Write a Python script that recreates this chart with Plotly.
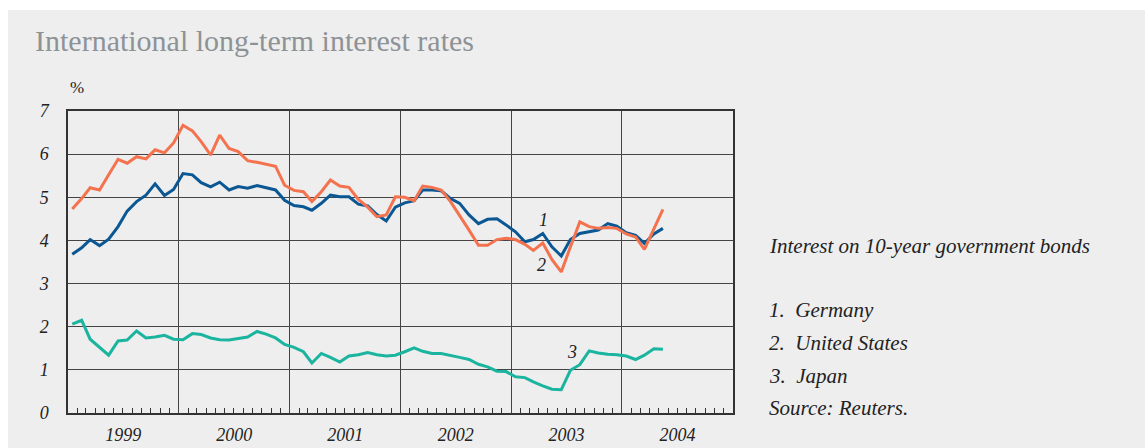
import plotly.graph_objects as go
import pandas as pd

# Monthly observations, January 1999 to May 2004 (mid-month)
months = pd.date_range("1999-01-01", periods=65, freq="MS") + pd.Timedelta(days=14)
months = [d.strftime("%Y-%m-%d") for d in months]

germany = [3.68, 3.83, 4.02, 3.88, 4.03, 4.32, 4.68, 4.90, 5.05, 5.31, 5.04, 5.18,
           5.55, 5.52, 5.34, 5.24, 5.35, 5.17, 5.25, 5.21, 5.27, 5.22, 5.17, 4.93,
           4.81, 4.78, 4.70, 4.86, 5.05, 5.01, 5.01, 4.84, 4.80, 4.60, 4.45, 4.77,
           4.87, 4.92, 5.17, 5.17, 5.15, 4.97, 4.86, 4.59, 4.39, 4.49, 4.50, 4.36,
           4.20, 3.97, 4.02, 4.16, 3.85, 3.64, 4.02, 4.16, 4.20, 4.24, 4.39, 4.33,
           4.18, 4.12, 3.93, 4.15, 4.28]

united_states = [4.73, 4.97, 5.22, 5.17, 5.52, 5.88, 5.79, 5.94, 5.89, 6.10, 6.03, 6.26,
                 6.67, 6.54, 6.29, 5.98, 6.44, 6.13, 6.06, 5.85, 5.81, 5.77, 5.72, 5.28,
                 5.16, 5.13, 4.90, 5.13, 5.40, 5.26, 5.23, 4.95, 4.77, 4.55, 4.59, 5.01,
                 5.00, 4.92, 5.26, 5.23, 5.17, 4.90, 4.59, 4.24, 3.89, 3.89, 4.02, 4.05,
                 4.02, 3.91, 3.77, 3.94, 3.56, 3.27, 3.85, 4.43, 4.32, 4.28, 4.30, 4.28,
                 4.15, 4.08, 3.79, 4.28, 4.72]

japan = [2.06, 2.15, 1.71, 1.53, 1.34, 1.67, 1.69, 1.90, 1.74, 1.76, 1.80, 1.71,
         1.70, 1.84, 1.82, 1.74, 1.70, 1.69, 1.72, 1.76, 1.89, 1.83, 1.74, 1.59,
         1.52, 1.42, 1.16, 1.38, 1.29, 1.18, 1.32, 1.35, 1.40, 1.35, 1.32, 1.34,
         1.42, 1.51, 1.43, 1.38, 1.38, 1.34, 1.29, 1.24, 1.13, 1.07, 0.97, 0.96,
         0.84, 0.82, 0.72, 0.63, 0.55, 0.54, 0.99, 1.12, 1.44, 1.39, 1.36, 1.35,
         1.32, 1.24, 1.34, 1.49, 1.48]

series_names = ["Germany", "United States", "Japan"]
series_colors = ["#0b5793", "#f4734e", "#1bb59f"]
y_ticks = [0, 1, 2, 3, 4, 5, 6, 7]

title_text = "International long-term interest rates"
side_texts = ["Interest on 10-year government bonds", "1.  Germany", "2.  United States",
              "3.  Japan", "Source: Reuters."]

W, H = 1145, 448
L, R, T, B = 68, 733, 111, 413   # plot area in page pixels
pw, ph = R - L, B - T

def px(x):
    return (x - L) / pw

def py(y):
    return (B - y) / ph

SERIF = "Liberation Serif, Times New Roman, serif"
BG = "#eeeeee"

fig = go.Figure()
for name, vals, col in zip(series_names, [germany, united_states, japan], series_colors):
    fig.add_trace(go.Scatter(x=months, y=vals, mode="lines", name=name,
                             line=dict(color=col, width=3), showlegend=False))

fig.update_layout(
    width=W, height=H,
    margin=dict(l=L, r=W - R, t=T, b=H - B, pad=0, autoexpand=False),
    paper_bgcolor="white", plot_bgcolor=BG,
    font=dict(family=SERIF, color="#222222"),
)

fig.update_xaxes(
    type="date", range=["1999-01-01", "2005-01-01"], automargin=False,
    tick0="1999-01-01", dtick="M12", tickformat="%Y", ticklabelmode="period",
    ticks="", ticklabelstandoff=5, showgrid=True, gridcolor="#444444", gridwidth=1.3,
    showline=True, linecolor="#333333", linewidth=1.5, mirror=True,
    tickfont=dict(family=SERIF, size=18, style="italic", color="#222222"),
    minor=dict(dtick="M1", tick0="1999-01-01", ticks="inside", ticklen=5,
               tickcolor="#333333", tickwidth=1, showgrid=False),
    zeroline=False,
)
fig.update_yaxes(
    range=[0, 7], tickvals=y_ticks, ticktext=[str(v) for v in y_ticks], automargin=False,
    ticks="", ticklabelstandoff=14, showgrid=True, gridcolor="#444444", gridwidth=1.3,
    showline=True, linecolor="#333333", linewidth=1.5, mirror=True, zeroline=False,
    tickfont=dict(family=SERIF, size=18, style="italic", color="#222222"),
)

# grey panel
fig.add_shape(type="rect", xref="paper", yref="paper",
              x0=px(8), x1=px(1160), y0=py(460), y1=py(10),
              fillcolor=BG, line=dict(width=0), layer="below")

ann = []
ann.append(dict(text=title_text, x=px(33), y=py(41), xanchor="left", yanchor="middle",
                font=dict(family=SERIF, size=30, color="#8d9297")))
ann.append(dict(text="%", x=px(77), y=py(88), xanchor="center", yanchor="middle",
                font=dict(family=SERIF, size=17, color="#222222")))
side_y = [246, 310, 343, 376, 408]
for t, yy in zip(side_texts, side_y):
    ann.append(dict(text="<i>" + t + "</i>", x=px(767), y=py(yy), xanchor="left",
                    yanchor="middle", font=dict(family=SERIF, size=21, color="#222222")))
for lab, (xx, yy) in zip(["1", "2", "3"], [(543, 220), (541, 265), (572, 352)]):
    ann.append(dict(text="<i>" + lab + "</i>", x=px(xx), y=py(yy), xanchor="center",
                    yanchor="middle", font=dict(family=SERIF, size=18, color="#222222")))
for a in ann:
    a.update(xref="paper", yref="paper", showarrow=False)
fig.update_layout(annotations=ann)

fig.write_html("out.html", config={"displayModeBar": False},
               post_script="document.body.style.margin='0';document.body.style.overflow='hidden';")
